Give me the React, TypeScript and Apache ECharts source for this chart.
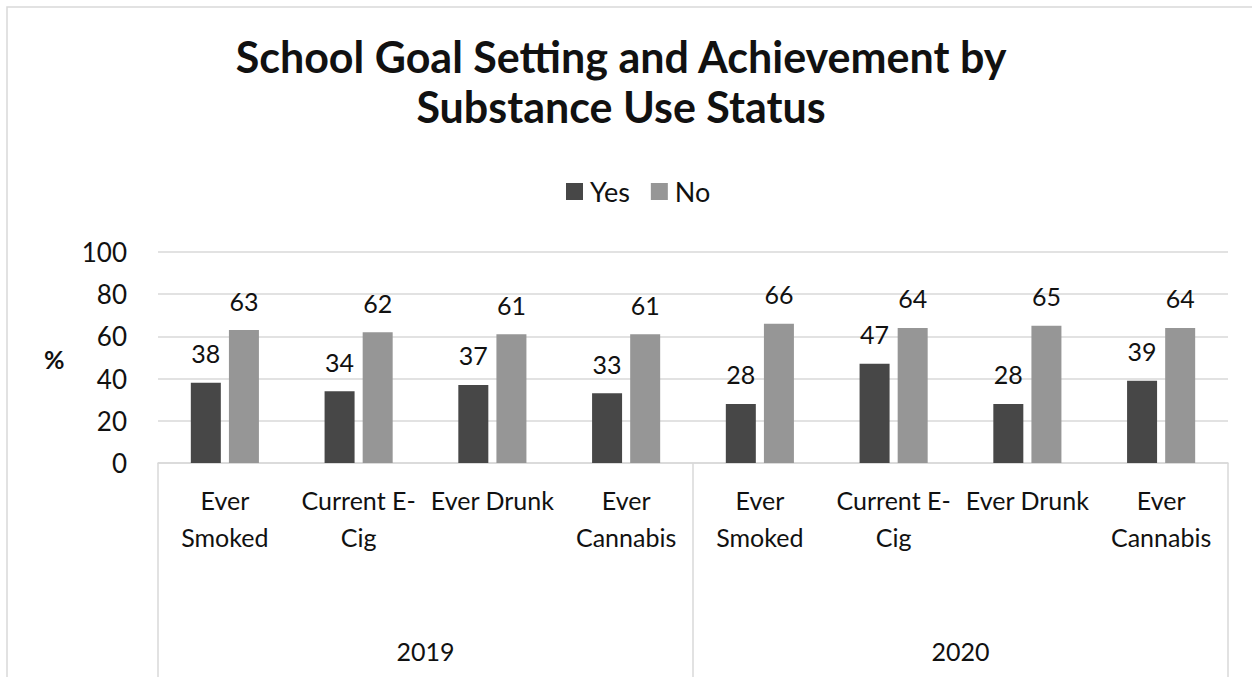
import React, { useEffect, useRef } from "react";
import * as echarts from "echarts";

const categories = [
  "Ever\nSmoked", "Current E-\nCig", "Ever Drunk", "Ever\nCannabis",
  "Ever\nSmoked", "Current E-\nCig", "Ever Drunk", "Ever\nCannabis",
];
const years = ["2019", "2020"];
const yesValues = [38, 34, 37, 33, 28, 47, 28, 39];
const noValues = [63, 62, 61, 61, 66, 64, 65, 64];
const yTicks = { min: 0, max: 100, interval: 20 };

const FONT = "Lato, 'Open Sans', sans-serif";
const TXT = "#111";

export default function App() {
  const ref = useRef<HTMLDivElement>(null);
  useEffect(() => {
    if (!ref.current) return;
    const chart = echarts.init(ref.current, null, { renderer: "svg" });
    const label = {
      show: true,
      position: "top",
      distance: 17,
      fontSize: 25,
      fontFamily: FONT,
      color: TXT,
    };
    chart.setOption({
      animation: false,
      backgroundColor: "#fff",
      textStyle: { fontFamily: FONT },
      title: {
        text: "School Goal Setting and Achievement by\nSubstance Use Status",
        left: 616,
        textAlign: "center",
        top: 26,
        textStyle: {
          fontFamily: FONT,
          fontWeight: "bold",
          fontSize: 43,
          lineHeight: 50,
          color: TXT,
        },
      },
      legend: {
        data: ["Yes", "No"],
        left: 561,
        top: 173,
        itemWidth: 17,
        itemHeight: 17,
        itemGap: 21,
        icon: "rect",
        textStyle: { fontFamily: FONT, fontSize: 27, color: TXT, padding: [0, 0, 0, 2] },
      },
      grid: { left: 158, right: 24, top: 252, bottom: 214, containLabel: false },
      xAxis: [
        {
          type: "category",
          data: categories,
          position: "bottom",
          axisLine: { show: true, lineStyle: { color: "#d9d9d9", width: 1.5 } },
          axisTick: { show: false },
          axisLabel: {
            interval: 0,
            fontSize: 25,
            fontFamily: FONT,
            color: TXT,
            lineHeight: 37,
            margin: 18,
          },
        },
        {
          type: "category",
          data: years,
          position: "bottom",
          axisLine: { show: false },
          axisTick: {
            show: true,
            length: 216,
            lineStyle: { color: "#d9d9d9", width: 1.5 },
          },
          axisLabel: {
            interval: 0,
            fontSize: 25,
            fontFamily: FONT,
            color: TXT,
            margin: 175,
          },
        },
      ],
      yAxis: {
        type: "value",
        min: yTicks.min,
        max: yTicks.max,
        interval: yTicks.interval,
        axisLine: { show: false },
        axisTick: { show: false },
        splitLine: { lineStyle: { color: "#d9d9d9", width: 1.5 } },
        axisLabel: { fontSize: 26, fontFamily: FONT, color: TXT, margin: 31 },
      },
      graphic: [
        {
          type: "rect",
          shape: { x: 7, y: 7, width: 1400, height: 800 },
          style: { fill: "none", stroke: "#d9d9d9", lineWidth: 1.5 },
          silent: true,
        },
        {
          type: "text",
          left: 44,
          top: 346,
          style: {
            text: "%",
            font: `bold 25px ${FONT}`,
            fill: TXT,
          },
        },
      ],
      series: [
        {
          name: "Yes",
          type: "bar",
          data: yesValues,
          barWidth: 30,
          barGap: "27%",
          itemStyle: { color: "#474747" },
          label,
        },
        {
          name: "No",
          type: "bar",
          data: noValues,
          barWidth: 30,
          itemStyle: { color: "#969696" },
          label,
        },
      ],
    });
    return () => chart.dispose();
  }, []);
  return (
    <div
      ref={ref}
      style={{ position: "fixed", left: 0, top: 0, width: 1252, height: 677 }}
    />
  );
}
